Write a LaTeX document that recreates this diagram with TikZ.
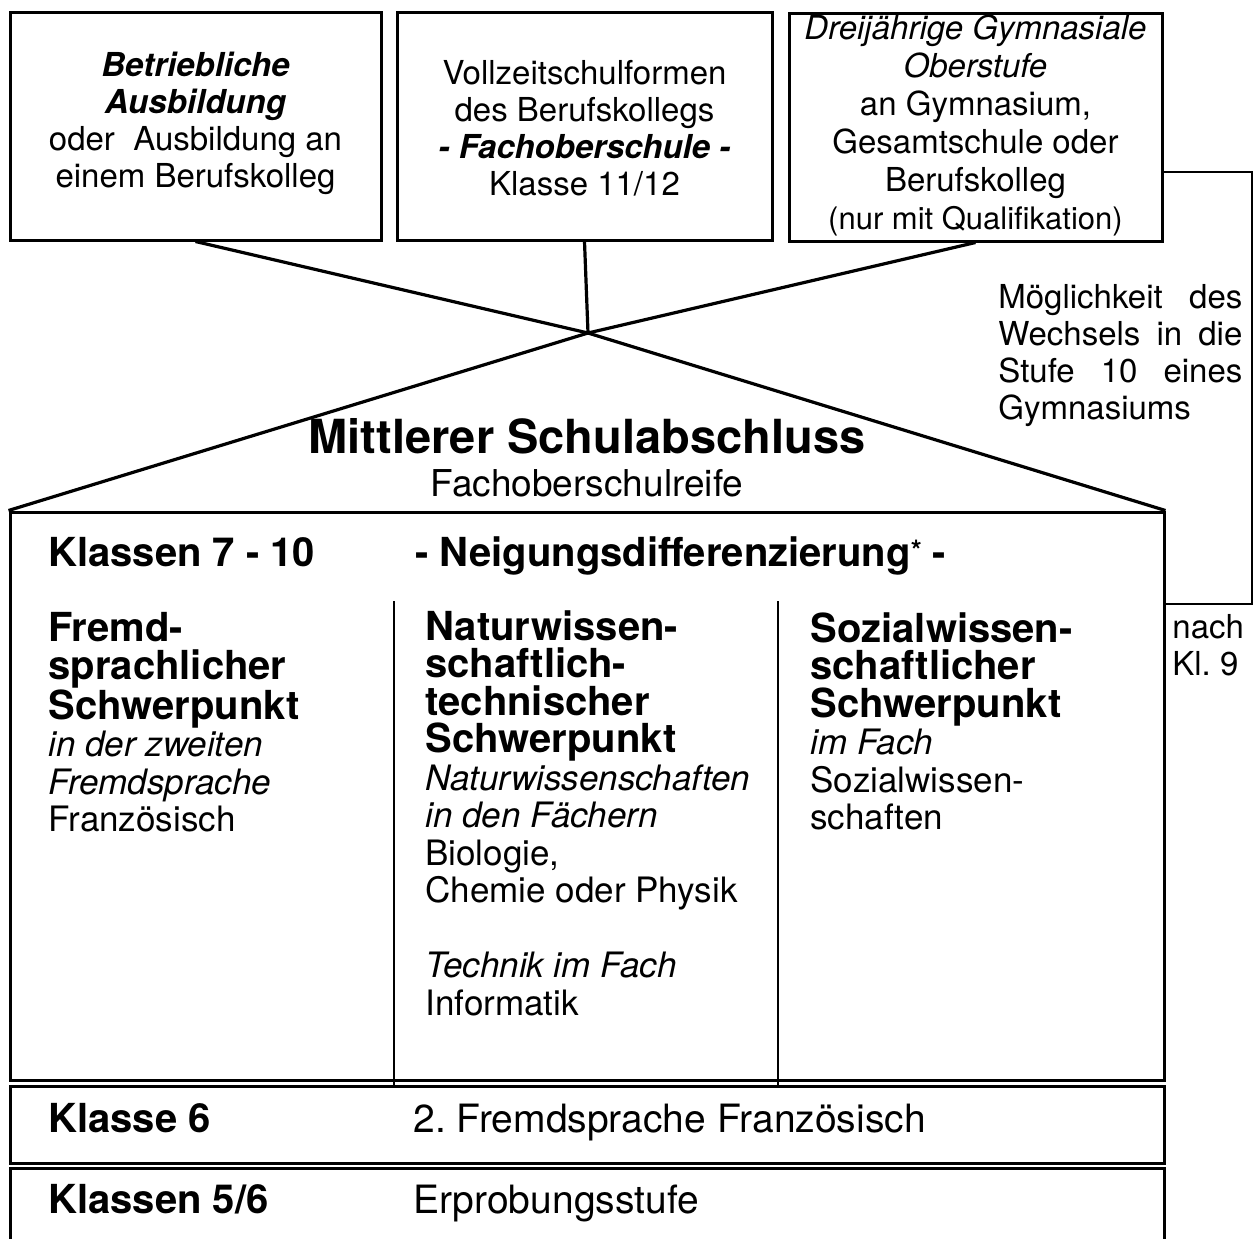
\documentclass[tikz,border=0pt]{standalone}
\usepackage{fontspec}
\setmainfont{TeX Gyre Heros}
\usepackage{tikz}
\usetikzlibrary{positioning}
\frenchspacing

\newcommand{\schrift}[2]{\fontsize{#1}{#2}\selectfont}
\newcommand{\kopf}[1]{{\bfseries\schrift{20}{18.75}#1}}

\begin{document}
\begin{tikzpicture}[
    x=0.5pt, y=-0.5pt,
    kasten/.style={draw, line width=1.5pt, inner sep=0pt, minimum height=114pt},
    kastentext/.style={inner sep=0pt, align=center, font=\schrift{16.5}{18.5}},
    zeile/.style={draw, line width=1.5pt, inner sep=0pt, minimum width=577pt},
    spalte/.style={anchor=north west, inner sep=0pt, align=left, font=\schrift{17.5}{18.75}},
    bez/.style={anchor=base west, inner sep=0pt, font=\bfseries\schrift{20}{24}},
    eintrag/.style={anchor=base west, inner sep=0pt, font=\schrift{19.5}{24}},
    seitentext/.style={anchor=north west, inner sep=0pt, align=left, font=\schrift{16.5}{18.5}},
    linie/.style={line width=1.6pt, line join=miter},
    trenn/.style={line width=1pt},
    verbind/.style={line width=1pt}
  ]
    \useasboundingbox (0,0) rectangle (1254,1238);
    \clip (0,0) rectangle (1254,1238);
    \fill[white] (0,0) rectangle (1254,1238);

    \node[kasten, minimum width=185.5pt] (betrieb) at (195.5,126) {};
    \node[kasten, minimum width=187.5pt] (fos) at (584.5,126) {};
    \node[kasten, minimum width=186.5pt] (gost) at (975.5,127) {};
    \node[kastentext, anchor=north] (betriebtext) at (195.5,52) {\textbf{\textit{Betriebliche}}\\ \textbf{\textit{Ausbildung}}\\ oder~~Ausbildung an\\ einem Berufskolleg};
    \node[kastentext, anchor=north] (fostext) at (584.5,60) {Vollzeitschulformen\\ des Berufskollegs\\ \textbf{\textit{- Fachoberschule -}}\\ Klasse 11/12};
    \node[kastentext, font=\schrift{16.5}{19}, anchor=north] (gosttext) at (975.5,14) {\textit{Dreijährige Gymnasiale}\\ \textit{Oberstufe}\\ an Gymnasium,\\ Gesamtschule oder\\ Berufskolleg\\ {\schrift{15.5}{19}(nur mit Qualifikation)}};

    \node[zeile, minimum height=284pt] (stufe) at (587,796) {};
    \node[zeile, minimum height=38.5pt] (kl6) at (587,1124.5) {};
    \node[zeile, minimum height=50pt] (kl56) at (587,1218) {};

    \coordinate (kreuz) at (588,333);
    \draw[linie] (betrieb.south) -- (kreuz) -- (stufe.north east);
    \draw[linie] (gost.south) -- (kreuz) -- (stufe.north west);
    \draw[linie] (fos.south) -- (kreuz);

    \node[anchor=base, inner sep=0pt, font=\bfseries\schrift{23.5}{28}] (msa) at (587,453) {Mittlerer Schulabschluss};
    \node[anchor=base, inner sep=0pt, font=\schrift{18.5}{22}] (reife) at (587,496) {Fachoberschulreife};

    \node[bez] (klassen) at (48,566) {Klassen 7 - 10};
    \node[bez] (neigung) at (415,566) {- Neigungsdifferenzierung\raisebox{3pt}{\schrift{14}{14}*} -};

    \draw[trenn] (394,601) -- (394,1085);
    \draw[trenn] (778,601) -- (778,1085);

    \node[spalte] (fremd) at (48,612) {\kopf{Fremd-}\\ \kopf{sprachlicher}\\ \kopf{Schwerpunkt}\\ \textit{in der zweiten}\\ \textit{Fremdsprache}\\ Französisch};
    \node[spalte] (natur) at (425,610) {\kopf{Naturwissen-}\\ \kopf{schaftlich-}\\ \kopf{technischer}\\ \kopf{Schwerpunkt}\\ \textit{Naturwissenschaften}\\ \textit{in den Fächern}\\ Biologie,\\ Chemie oder Physik\\[18.75pt] \textit{Technik im Fach}\\ Informatik};
    \node[spalte] (sozial) at (810,612) {\kopf{Sozialwissen-}\\ \kopf{schaftlicher}\\ \kopf{Schwerpunkt}\\ \textit{im Fach}\\ Sozialwissen-\\ schaften};

    \node[bez] (kl6bez) at (48,1132) {Klasse 6};
    \node[eintrag] (kl6text) at (413,1132) {2. Fremdsprache Französisch};
    \node[bez] (kl56bez) at (48,1213) {Klassen 5/6};
    \node[eintrag] (kl56text) at (413,1213) {Erprobungsstufe};

    \coordinate (wechsel) at (1252,172);
    \coordinate (wechselende) at (1252,604);
    \draw[verbind] (gost.east |- wechsel) -- (wechsel) -- (wechselende) -- (stufe.east |- wechselende);
    \node[seitentext] (wechseltext) at (998,284) {\makebox[122pt][s]{Möglichkeit des}\\ \makebox[122pt][s]{Wechsels in die}\\ \makebox[122pt][s]{Stufe 10 eines}\\ Gymnasiums};
    \node[seitentext] (nachkl) at (1172,614) {nach\\ Kl. 9};
\end{tikzpicture}
\end{document}
